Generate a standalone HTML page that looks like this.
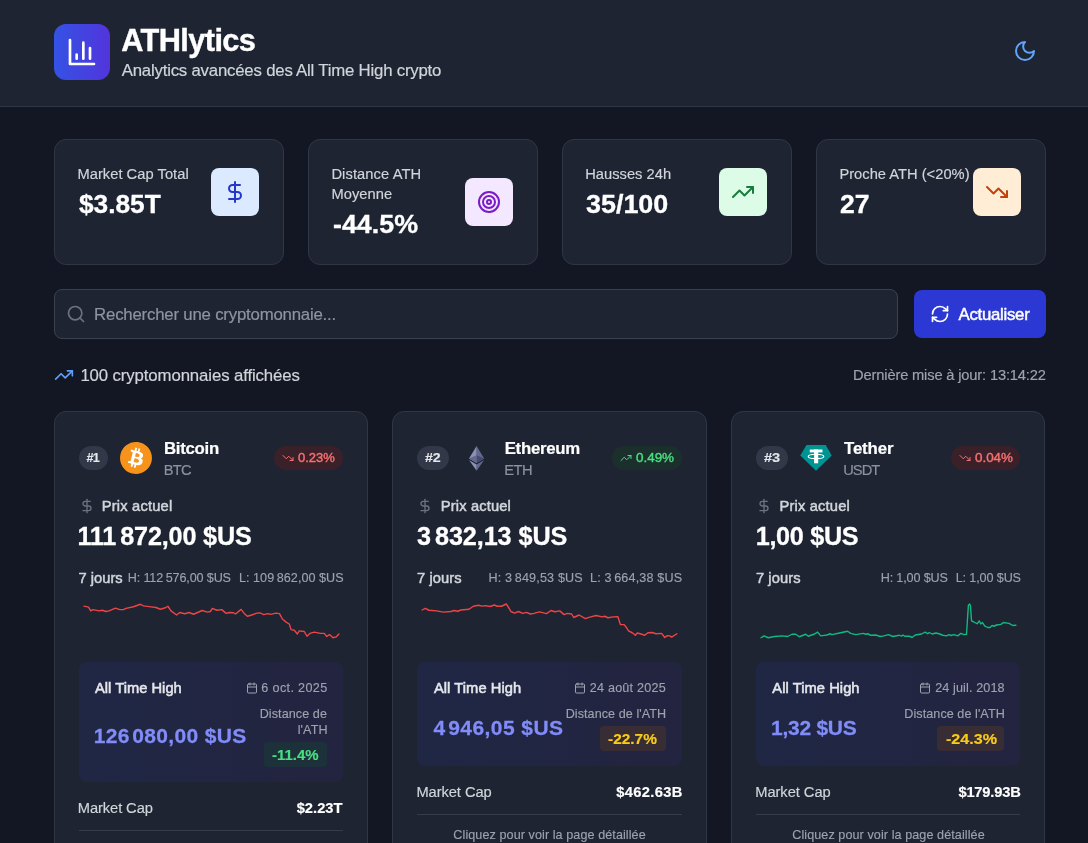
<!DOCTYPE html>
<html lang="fr">
<head>
<meta charset="utf-8">
<title>ATHlytics</title>
<style>
*{box-sizing:border-box;margin:0;padding:0}
html,body{width:1088px;height:843px;overflow:hidden}
body{background:#131723;color:#fff;font-family:"Liberation Sans",sans-serif;position:relative}
.b{position:absolute}
.t{position:absolute;white-space:nowrap;line-height:1}
svg{display:block;position:absolute;overflow:visible}
.ic{fill:none;stroke:currentColor;stroke-width:2;stroke-linecap:round;stroke-linejoin:round}
#txt{position:absolute;left:0;top:0;width:1088px;height:843px;will-change:transform}
.panel{background:#1e2431;border:1px solid #2f3646;border-radius:12px}
.pill{border-radius:12px;height:24px}
.ath{border-radius:8px;background:linear-gradient(90deg,#1f2744 0%,#23243f 100%)}
.hr{height:1px;background:#353d4c}
.spark{fill:none;stroke-width:1.4;stroke-linejoin:round;stroke-linecap:round}
</style>
</head>
<body>
<div class="b " style="left:0px;top:0px;width:1088px;height:107px;background:#1e2431;border-bottom:1px solid #2f3646"></div>
<div class="b " style="left:54px;top:24px;width:56px;height:56px;border-radius:12px;background:linear-gradient(90deg,#3453e4 0%,#5234dc 100%)"></div>
<svg class="ic" style="left:66px;top:36px;color:#fff;stroke-width:2" width="32" height="32" viewBox="0 0 24 24"><path d="M3 3v18h18"/><path d="M18 17V9"/><path d="M13 17V5"/><path d="M8 17v-3"/></svg>
<svg class="ic" style="left:1013.4px;top:39.4px;color:#60a5fa;stroke-width:2" width="24" height="24" viewBox="0 0 24 24"><path d="M12 3a6 6 0 0 0 9 9 9 9 0 1 1-9-9Z"/></svg>
<div class="b panel" style="left:54px;top:139px;width:230px;height:126px;"></div>
<div class="b " style="left:211px;top:168px;width:48px;height:48px;border-radius:8px;background:#dbeafe"></div>
<svg class="ic" style="left:223px;top:180px;color:#2337cc;stroke-width:2" width="24" height="24" viewBox="0 0 24 24"><path d="M12 2v20"/><path d="M17 5H9.5a3.5 3.5 0 0 0 0 7h5a3.5 3.5 0 0 1 0 7H6"/></svg>
<div class="b panel" style="left:308px;top:139px;width:230px;height:126px;"></div>
<div class="b " style="left:465px;top:178px;width:48px;height:48px;border-radius:8px;background:#f3e8ff"></div>
<svg class="ic" style="left:477px;top:190px;color:#7a1bc9;stroke-width:2" width="24" height="24" viewBox="0 0 24 24"><circle cx="12" cy="12" r="10"/><circle cx="12" cy="12" r="6"/><circle cx="12" cy="12" r="2"/></svg>
<div class="b panel" style="left:562px;top:139px;width:230px;height:126px;"></div>
<div class="b " style="left:719px;top:168px;width:48px;height:48px;border-radius:8px;background:#dcfce7"></div>
<svg class="ic" style="left:731px;top:180px;color:#177d3c;stroke-width:2" width="24" height="24" viewBox="0 0 24 24"><path d="M22 7l-8.500 8.500-5-5L2 17"/><path d="M16 7h6v6"/></svg>
<div class="b panel" style="left:816px;top:139px;width:230px;height:126px;"></div>
<div class="b " style="left:973px;top:168px;width:48px;height:48px;border-radius:8px;background:#ffedd5"></div>
<svg class="ic" style="left:985px;top:180px;color:#c2410c;stroke-width:2" width="24" height="24" viewBox="0 0 24 24"><path d="M22 17l-8.500-8.500-5 5L2 7"/><path d="M16 17h6v-6"/></svg>
<div class="b " style="left:54px;top:289px;width:844px;height:50px;background:#1e2431;border:1px solid #3a4252;border-radius:8px"></div>
<svg class="ic" style="left:66px;top:304px;color:#6b7280;stroke-width:2" width="20" height="20" viewBox="0 0 24 24"><circle cx="11" cy="11" r="8"/><path d="M21 21l-4.300-4.300"/></svg>
<div class="b " style="left:914px;top:290px;width:132px;height:48px;background:#2b38d3;border-radius:8px"></div>
<svg class="ic" style="left:930px;top:304px;color:#fff;stroke-width:2" width="20" height="20" viewBox="0 0 24 24"><path d="M3 12a9 9 0 0 1 9-9 9.750 9.750 0 0 1 6.740 2.740L21 8"/><path d="M21 3v5h-5"/><path d="M21 12a9 9 0 0 1-9 9 9.750 9.750 0 0 1-6.740-2.740L3 16"/><path d="M8 16H3v5"/></svg>
<svg class="ic" style="left:54px;top:365px;color:#5f9ff7;stroke-width:2" width="20" height="20" viewBox="0 0 24 24"><path d="M22 7l-8.500 8.500-5-5L2 17"/><path d="M16 7h6v6"/></svg>
<div class="b panel" style="left:54px;top:411px;width:314.44px;height:470px;"></div>
<div class="b pill" style="left:79px;top:446px;width:29px;height:24px;background:#323848"></div>
<svg style="left:120px;top:442px" width="32" height="32" viewBox="0 0 4091.27 4091.73"><path fill="#F7931A" d="M4030.06 2540.77c-273.24,1096.01 -1383.32,1763.02 -2479.46,1489.71 -1095.68,-273.24 -1762.69,-1383.39 -1489.33,-2479.31 273.12,-1096.13 1383.2,-1763.19 2479,-1489.95 1096.06,273.24 1763.03,1383.51 1489.76,2479.57l0.02 -0.02z"/><path fill="#fff" d="M2947.77 1754.38c40.72,-272.26 -166.56,-418.61 -450,-516.24l91.95 -368.8 -224.5 -55.94 -89.51 359.09c-59.02,-14.72 -119.63,-28.59 -179.87,-42.34l90.16 -361.46 -224.36 -55.94 -92 368.68c-48.84,-11.12 -96.81,-22.11 -143.35,-33.69l0.26 -1.16 -309.59 -77.31 -59.72 239.78c0,0 166.56,38.18 163.05,40.53 90.91,22.69 107.35,82.87 104.62,130.57l-104.74 420.15c6.26,1.59 14.38,3.89 23.34,7.49 -7.49,-1.86 -15.46,-3.89 -23.73,-5.87l-146.81 588.57c-11.11,27.62 -39.31,69.07 -102.87,53.33 2.25,3.26 -163.17,-40.72 -163.17,-40.72l-111.46 256.98 292.15 72.83c54.35,13.63 107.61,27.89 160.06,41.3l-92.9 373.03 224.24 55.94 92 -369.07c61.26,16.63 120.71,31.97 178.91,46.43l-91.69 367.33 224.51 55.94 92.89 -372.33c382.82,72.45 670.67,43.24 791.83,-303.02 97.63,-278.78 -4.86,-439.58 -206.26,-544.44 146.69,-33.83 257.18,-130.31 286.64,-329.61l-0.07 -0.05zm-512.93 719.26c-69.38,278.78 -538.76,128.08 -690.94,90.29l123.28 -494.2c152.17,37.99 640.17,113.17 567.67,403.91zm69.43 -723.3c-63.29,253.58 -453.96,124.75 -580.69,93.16l111.77 -448.21c126.73,31.59 534.850,90.55 468.94,355.05l-0.02 0z"/></svg>
<div class="b pill" style="left:274.44px;top:446px;width:69px;height:24px;background:#3a2029"></div>
<svg class="ic" style="left:282.44px;top:452px;color:#f87171;stroke-width:2" width="12" height="12" viewBox="0 0 24 24"><path d="M22 17l-8.500-8.500-5 5L2 7"/><path d="M16 17h6v-6"/></svg>
<svg class="ic" style="left:79px;top:498px;color:#6b7280;stroke-width:2" width="16" height="16" viewBox="0 0 24 24"><path d="M12 2v20"/><path d="M17 5H9.5a3.5 3.5 0 0 0 0 7h5a3.5 3.5 0 0 1 0 7H6"/></svg>
<svg style="left:0;top:0" width="1088" height="843"><polyline class="spark" stroke="#ef4444" points="84.10,606.10 88.50,607.10 90.75,610.90 92.90,609.60 99.10,610.90 102.25,610.25 106.00,611.50 109.10,610.90 115.40,608.10 119.75,609.60 123.50,609.60 126.00,608.40 133.50,606.75 140.40,604.25 143.50,605.90 151.00,606.90 156.00,607.50 160.40,609.25 165.40,607.75 167.90,606.25 171.00,610.90 176.60,615.00 179.75,612.50 184.75,613.75 189.10,612.50 193.50,614.25 202.25,610.50 207.25,612.10 210.40,611.50 212.40,608.40 216.75,610.25 221.75,609.60 226.10,613.40 229.25,612.50 233.60,612.75 235.50,614.00 241.10,609.40 244.25,613.40 247.40,616.25 251.75,615.00 256.75,613.10 260.50,613.00 263.60,614.60 268.00,613.60 270.50,614.40 276.10,613.10 279.50,613.60 282.40,619.00 286.10,622.10 289.25,624.00 291.10,629.60 294.25,630.25 297.40,634.00 299.25,630.90 304.25,631.50 307.00,636.25 309.90,633.40 314.25,632.10 320.50,633.40 324.25,633.40 326.75,636.50 329.50,634.60 333.00,637.75 336.10,636.90 338.90,634.00"/></svg>
<div class="b ath" style="left:79px;top:662px;width:264.44px;height:120px;"></div>
<svg class="ic" style="left:245.7px;top:682px;color:#9ca3af;stroke-width:2" width="12" height="12" viewBox="0 0 24 24"><rect x="3" y="4" width="18" height="18" rx="2"/><path d="M16 2v4"/><path d="M8 2v4"/><path d="M3 10h18"/></svg>
<div class="b " style="left:264.2px;top:742px;width:62.8px;height:24.5px;border-radius:4px;background:#1c3139"></div>
<div class="b hr" style="left:79px;top:830px;width:264.44px;height:1px;"></div>
<div class="b panel" style="left:392.44px;top:411px;width:314.44px;height:470px;"></div>
<div class="b pill" style="left:417.44px;top:446px;width:32px;height:24px;background:#323848"></div>
<svg style="left:469.04px;top:445.6px" width="15.2" height="24.7" viewBox="0 0 784.37 1277.39"><polygon fill="#62688f" points="392.07,0 383.5,29.11 383.5,873.74 392.07,882.29 784.13,650.54"/><polygon fill="#8a92b2" points="392.07,0 0,650.54 392.07,882.29 392.07,472.33"/><polygon fill="#62688f" points="392.07,956.52 387.24,962.41 387.24,1263.28 392.07,1277.38 784.37,724.89"/><polygon fill="#8a92b2" points="392.07,1277.38 392.07,956.52 0,724.89"/><polygon fill="#454a75" points="392.07,882.29 784.13,650.54 392.07,472.33"/><polygon fill="#62688f" points="0,650.54 392.07,882.29 392.07,472.33"/></svg>
<div class="b pill" style="left:611.88px;top:446px;width:70px;height:24px;background:#1b2f2d"></div>
<svg class="ic" style="left:619.88px;top:452px;color:#4ade80;stroke-width:2" width="12" height="12" viewBox="0 0 24 24"><path d="M22 7l-8.500 8.500-5-5L2 17"/><path d="M16 7h6v6"/></svg>
<svg class="ic" style="left:417.44px;top:498px;color:#6b7280;stroke-width:2" width="16" height="16" viewBox="0 0 24 24"><path d="M12 2v20"/><path d="M17 5H9.5a3.5 3.5 0 0 0 0 7h5a3.5 3.5 0 0 1 0 7H6"/></svg>
<svg style="left:0;top:0" width="1088" height="843"><polyline class="spark" stroke="#ef4444" points="422.10,610.00 425.25,608.40 429.00,610.25 436.50,610.90 443.40,612.10 450.90,611.50 454.00,610.50 457.75,611.25 460.90,610.00 469.00,609.25 473.40,606.25 478.40,605.25 482.10,606.10 485.25,605.60 490.25,606.50 494.25,605.00 497.10,606.25 501.50,606.25 506.25,604.00 508.40,607.10 510.90,611.50 514.60,613.10 518.40,611.50 522.75,613.40 526.50,612.40 530.25,614.00 534.00,613.40 539.60,611.90 546.50,613.60 551.00,610.50 554.75,611.75 559.75,610.90 564.10,614.60 567.25,613.40 571.60,614.00 573.75,617.50 579.10,615.00 585.40,618.60 589.75,617.10 596.00,615.50 602.25,616.90 604.75,616.25 607.90,617.75 613.50,616.90 617.90,616.75 620.40,624.60 624.10,624.60 626.60,627.75 628.50,630.90 632.25,632.75 635.40,635.25 637.25,633.00 641.00,634.00 644.75,635.25 647.90,632.75 652.25,632.50 656.00,633.75 661.60,633.40 664.75,637.50 667.25,635.60 669.75,635.90 671.60,637.10 676.90,633.75"/></svg>
<div class="b ath" style="left:417.44px;top:662px;width:264.44px;height:104px;"></div>
<svg class="ic" style="left:574.1px;top:682px;color:#9ca3af;stroke-width:2" width="12" height="12" viewBox="0 0 24 24"><rect x="3" y="4" width="18" height="18" rx="2"/><path d="M16 2v4"/><path d="M8 2v4"/><path d="M3 10h18"/></svg>
<div class="b " style="left:600.4px;top:726px;width:65.3px;height:24.5px;border-radius:4px;background:#382c35"></div>
<div class="b hr" style="left:417.44px;top:814px;width:264.44px;height:1px;"></div>
<div class="b panel" style="left:730.89px;top:411px;width:314.44px;height:470px;"></div>
<div class="b pill" style="left:755.89px;top:446px;width:32px;height:24px;background:#323848"></div>
<svg style="left:799.89px;top:442px" width="32" height="32" viewBox="0 0 32 32"><polygon fill="#009393" points="6.500,3 25.750,3 31.750,13.400 16,28.750 0.250,13.400"/><rect x="9.750" y="7.500" width="12.750" height="2.900" fill="#fff"/><rect x="14.100" y="7.500" width="4.100" height="13.800" fill="#fff"/><ellipse cx="16" cy="14.400" rx="7.800" ry="2.200" fill="none" stroke="#fff" stroke-width="1.100"/></svg>
<div class="b pill" style="left:951.33px;top:446px;width:69px;height:24px;background:#3a2029"></div>
<svg class="ic" style="left:959.33px;top:452px;color:#f87171;stroke-width:2" width="12" height="12" viewBox="0 0 24 24"><path d="M22 17l-8.500-8.500-5 5L2 7"/><path d="M16 17h6v-6"/></svg>
<svg class="ic" style="left:755.89px;top:498px;color:#6b7280;stroke-width:2" width="16" height="16" viewBox="0 0 24 24"><path d="M12 2v20"/><path d="M17 5H9.5a3.5 3.5 0 0 0 0 7h5a3.5 3.5 0 0 1 0 7H6"/></svg>
<svg style="left:0;top:0" width="1088" height="843"><polyline class="spark" stroke="#10b981" points="761.00,637.75 764.10,635.90 768.25,637.75 774.50,636.50 782.00,635.90 787.60,636.50 792.00,634.25 795.75,634.25 799.25,636.75 805.75,634.25 808.25,636.25 814.50,634.00 817.60,632.10 820.75,635.90 827.00,635.00 830.10,633.75 832.00,634.60 839.50,633.00 847.60,631.25 850.75,633.40 855.75,634.60 863.25,633.40 865.75,634.25 867.60,633.75 870.75,635.25 875.75,635.00 880.10,636.50 884.00,635.90 888.40,634.60 892.75,636.50 899.60,635.25 901.50,636.25 903.00,635.00 904.60,636.25 909.60,636.25 912.10,637.50 915.25,635.00 921.50,634.00 925.25,632.10 927.75,633.75 929.25,632.50 932.10,634.00 935.90,633.00 939.00,633.75 942.75,635.25 946.50,635.90 949.00,634.60 950.90,635.50 954.00,634.60 957.75,635.90 960.90,633.40 964.00,634.60 966.50,634.25 967.50,619.00 968.40,605.25 969.60,604.00 970.50,605.90 971.50,620.90 973.40,621.75 977.10,623.75 979.25,620.90 980.90,624.00 982.50,622.50 984.60,625.90 987.75,627.50 990.00,627.50 992.10,625.50 994.00,626.25 996.50,625.00 1000.90,624.40 1003.40,622.50 1009.00,623.40 1012.75,625.50 1015.90,625.25"/></svg>
<div class="b ath" style="left:755.89px;top:662px;width:264.44px;height:104px;"></div>
<svg class="ic" style="left:919.4px;top:682px;color:#9ca3af;stroke-width:2" width="12" height="12" viewBox="0 0 24 24"><rect x="3" y="4" width="18" height="18" rx="2"/><path d="M16 2v4"/><path d="M8 2v4"/><path d="M3 10h18"/></svg>
<div class="b " style="left:937.4px;top:726px;width:67.0px;height:24.5px;border-radius:4px;background:#382c35"></div>
<div class="b hr" style="left:755.89px;top:814px;width:264.44px;height:1px;"></div>
<div id="txt">
<div class="t" id="title" style="left:121.23px;top:25.97px;font-size:30.75px;color:#ffffff;font-weight:700;-webkit-text-stroke:0.39px currentColor;letter-spacing:-0.601px;">ATHlytics</div>
<div class="t" id="sub" style="left:121.74px;top:62.87px;font-size:16.80px;color:#d1d5db;letter-spacing:-0.206px;-webkit-text-stroke:0.19px currentColor;">Analytics avancées des All Time High crypto</div>
<div class="t" id="s1l" style="left:77.41px;top:166.56px;font-size:14.70px;color:#d1d5db;letter-spacing:0.034px;-webkit-text-stroke:0.17px currentColor;">Market Cap Total</div>
<div class="t" id="s1v" style="left:79.42px;top:191.67px;font-size:25.20px;color:#ffffff;font-weight:700;-webkit-text-stroke:0.31px currentColor;transform:scaleX(1.0427);transform-origin:0 0;">$3.85T</div>
<div class="t" id="s2l" style="left:331.40px;top:166.56px;font-size:14.70px;color:#d1d5db;letter-spacing:0.095px;-webkit-text-stroke:0.17px currentColor;">Distance ATH</div>
<div class="t" id="s2m" style="left:331.40px;top:186.56px;font-size:14.70px;color:#d1d5db;letter-spacing:0.043px;-webkit-text-stroke:0.17px currentColor;">Moyenne</div>
<div class="t" id="s2v" style="left:332.77px;top:211.67px;font-size:25.20px;color:#ffffff;font-weight:700;-webkit-text-stroke:0.31px currentColor;transform:scaleX(1.0658);transform-origin:0 0;">-44.5%</div>
<div class="t" id="s3l" style="left:585.15px;top:166.56px;font-size:14.70px;color:#d1d5db;letter-spacing:0.028px;-webkit-text-stroke:0.17px currentColor;">Hausses 24h</div>
<div class="t" id="s3v" style="left:586.36px;top:191.67px;font-size:25.20px;color:#ffffff;font-weight:700;-webkit-text-stroke:0.31px currentColor;transform:scaleX(1.0680);transform-origin:0 0;">35/100</div>
<div class="t" id="s4l" style="left:839.40px;top:166.56px;font-size:14.70px;color:#d1d5db;letter-spacing:0.014px;-webkit-text-stroke:0.17px currentColor;">Proche ATH (&lt;20%)</div>
<div class="t" id="s4v" style="left:839.72px;top:191.67px;font-size:25.20px;color:#ffffff;font-weight:700;-webkit-text-stroke:0.31px currentColor;transform:scaleX(1.0549);transform-origin:0 0;">27</div>
<div class="t" id="ph" style="left:94.10px;top:306.80px;font-size:16.80px;color:#8d94a2;letter-spacing:-0.201px;-webkit-text-stroke:0.19px currentColor;">Rechercher une cryptomonnaie...</div>
<div class="t" id="btnt" style="left:958.55px;top:307.18px;font-size:16.80px;color:#ffffff;letter-spacing:-0.276px;-webkit-text-stroke:0.45px #fff;">Actualiser</div>
<div class="t" id="cnt" style="left:80.39px;top:367.81px;font-size:16.80px;color:#d1d5db;letter-spacing:-0.116px;-webkit-text-stroke:0.19px currentColor;">100 cryptomonnaies affichées</div>
<div class="t" id="upd" style="left:853.11px;top:367.56px;font-size:14.70px;color:#9ca3af;letter-spacing:-0.163px;-webkit-text-stroke:0.17px currentColor;">Dernière mise à jour: 13:14:22</div>
<div class="t" id="c1rk" style="left:86.45px;top:452.35px;font-size:12.60px;color:#e5e7eb;font-weight:700;-webkit-text-stroke:0.16px currentColor;letter-spacing:-0.808px;">#1</div>
<div class="t" id="c1nm" style="left:163.96px;top:440.78px;font-size:16.80px;color:#ffffff;font-weight:700;-webkit-text-stroke:0.21px currentColor;letter-spacing:-0.279px;">Bitcoin</div>
<div class="t" id="c1sy" style="left:163.78px;top:462.56px;font-size:14.70px;color:#8b92a1;letter-spacing:-0.753px;-webkit-text-stroke:0.17px currentColor;">BTC</div>
<div class="t" id="c1cg" style="left:298.16px;top:452.06px;font-size:12.60px;color:#f87171;transform:scaleX(1.0317);transform-origin:0 0;-webkit-text-stroke:0.4px currentColor;">0.23%</div>
<div class="t" id="c1pa" style="left:101.77px;top:498.56px;font-size:14.70px;color:#d1d5db;letter-spacing:0.190px;-webkit-text-stroke:0.5px currentColor;">Prix actuel</div>
<div class="t" id="c1pr" style="left:77.41px;top:523.67px;font-size:25.20px;color:#ffffff;font-weight:700;-webkit-text-stroke:0.31px currentColor;letter-spacing:-0.167px;">111<span style="letter-spacing:-1.0px"> </span>872,00 $US</div>
<div class="t" id="c1j7" style="left:78.54px;top:570.56px;font-size:14.70px;color:#d1d5db;letter-spacing:0.012px;-webkit-text-stroke:0.5px currentColor;">7 jours</div>
<div class="t" id="c1h" style="left:127.69px;top:571.77px;font-size:12.60px;color:#9ca3af;letter-spacing:-0.127px;-webkit-text-stroke:0.14px currentColor;">H: 112<span style="letter-spacing:0.0px"> </span>576,00 $US</div>
<div class="t" id="c1l" style="left:238.91px;top:572.48px;font-size:12.60px;color:#9ca3af;letter-spacing:0.045px;-webkit-text-stroke:0.14px currentColor;">L: 109<span style="letter-spacing:0.0px"> </span>862,00 $US</div>
<div class="t" id="c1ah" style="left:94.99px;top:680.56px;font-size:14.70px;color:#e5e7eb;letter-spacing:0.022px;-webkit-text-stroke:0.55px currentColor;">All Time High</div>
<div class="t" id="c1dt" style="left:261.37px;top:682.47px;font-size:12.60px;color:#9ca3af;letter-spacing:0.348px;-webkit-text-stroke:0.14px currentColor;">6 oct. 2025</div>
<div class="t" id="c1ap" style="left:93.64px;top:725.22px;font-size:21.00px;color:#818cf8;font-weight:700;-webkit-text-stroke:0.26px currentColor;letter-spacing:0.329px;">126<span style="letter-spacing:-1.6px"> </span>080,00 $US</div>
<div class="t" id="c1d1" style="left:259.69px;top:707.77px;font-size:12.60px;color:#9ca3af;letter-spacing:0.072px;-webkit-text-stroke:0.14px currentColor;">Distance de</div>
<div class="t" id="c1d2" style="left:297.74px;top:723.70px;font-size:12.60px;color:#9ca3af;letter-spacing:0.084px;-webkit-text-stroke:0.14px currentColor;">l&#x27;ATH</div>
<div class="t" id="c1bd" style="left:271.92px;top:747.56px;font-size:14.70px;color:#4ade80;font-weight:700;-webkit-text-stroke:0.18px currentColor;transform:scaleX(1.0172);transform-origin:0 0;">-11.4%</div>
<div class="t" id="c1mc" style="left:77.78px;top:800.56px;font-size:14.70px;color:#d1d5db;letter-spacing:-0.087px;-webkit-text-stroke:0.17px currentColor;">Market Cap</div>
<div class="t" id="c1mv" style="left:296.66px;top:800.56px;font-size:14.70px;color:#ffffff;font-weight:700;-webkit-text-stroke:0.18px currentColor;letter-spacing:0.022px;">$2.23T</div>
<div class="t" id="c2rk" style="left:425.13px;top:452.34px;font-size:12.60px;color:#e5e7eb;font-weight:700;-webkit-text-stroke:0.16px currentColor;transform:scaleX(1.1243);transform-origin:0 0;">#2</div>
<div class="t" id="c2nm" style="left:504.69px;top:440.78px;font-size:16.80px;color:#ffffff;font-weight:700;-webkit-text-stroke:0.21px currentColor;letter-spacing:-0.264px;">Ethereum</div>
<div class="t" id="c2sy" style="left:504.23px;top:462.56px;font-size:14.70px;color:#8b92a1;letter-spacing:-0.451px;-webkit-text-stroke:0.17px currentColor;">ETH</div>
<div class="t" id="c2cg" style="left:636.08px;top:452.07px;font-size:12.60px;color:#4ade80;transform:scaleX(1.0657);transform-origin:0 0;-webkit-text-stroke:0.4px currentColor;">0.49%</div>
<div class="t" id="c2pa" style="left:440.83px;top:498.56px;font-size:14.70px;color:#d1d5db;letter-spacing:0.144px;-webkit-text-stroke:0.5px currentColor;">Prix actuel</div>
<div class="t" id="c2pr" style="left:416.99px;top:523.67px;font-size:25.20px;color:#ffffff;font-weight:700;-webkit-text-stroke:0.31px currentColor;letter-spacing:-0.076px;">3<span style="letter-spacing:-1.0px"> </span>832,13 $US</div>
<div class="t" id="c2j7" style="left:416.99px;top:570.56px;font-size:14.70px;color:#d1d5db;letter-spacing:0.102px;-webkit-text-stroke:0.5px currentColor;">7 jours</div>
<div class="t" id="c2h" style="left:488.56px;top:571.77px;font-size:12.60px;color:#9ca3af;letter-spacing:0.153px;-webkit-text-stroke:0.14px currentColor;">H: 3<span style="letter-spacing:0.0px"> </span>849,53 $US</div>
<div class="t" id="c2l" style="left:590.07px;top:572.47px;font-size:12.60px;color:#9ca3af;letter-spacing:0.149px;-webkit-text-stroke:0.14px currentColor;">L: 3<span style="letter-spacing:0.0px"> </span>664,38 $US</div>
<div class="t" id="c2ah" style="left:433.89px;top:680.56px;font-size:14.70px;color:#e5e7eb;letter-spacing:0.063px;-webkit-text-stroke:0.55px currentColor;">All Time High</div>
<div class="t" id="c2dt" style="left:589.74px;top:681.77px;font-size:12.60px;color:#9ca3af;letter-spacing:0.224px;-webkit-text-stroke:0.14px currentColor;">24 août 2025</div>
<div class="t" id="c2ap" style="left:433.51px;top:717.22px;font-size:21.00px;color:#818cf8;font-weight:700;-webkit-text-stroke:0.26px currentColor;letter-spacing:0.429px;">4<span style="letter-spacing:-1.6px"> </span>946,05 $US</div>
<div class="t" id="c2d1" style="left:565.68px;top:707.70px;font-size:12.60px;color:#9ca3af;letter-spacing:0.063px;-webkit-text-stroke:0.14px currentColor;">Distance de l&#x27;ATH</div>
<div class="t" id="c2bd" style="left:608.19px;top:731.56px;font-size:14.70px;color:#facc15;font-weight:700;-webkit-text-stroke:0.18px currentColor;transform:scaleX(1.0500);transform-origin:0 0;">-22.7%</div>
<div class="t" id="c2mc" style="left:416.40px;top:784.56px;font-size:14.70px;color:#d1d5db;letter-spacing:-0.068px;-webkit-text-stroke:0.17px currentColor;">Market Cap</div>
<div class="t" id="c2mv" style="left:616.37px;top:784.56px;font-size:14.70px;color:#ffffff;font-weight:700;-webkit-text-stroke:0.18px currentColor;letter-spacing:0.312px;">$462.63B</div>
<div class="t" id="c2ck" style="left:453.37px;top:829.47px;font-size:12.60px;color:#9ca3af;letter-spacing:0.076px;-webkit-text-stroke:0.14px currentColor;">Cliquez pour voir la page détaillée</div>
<div class="t" id="c3rk" style="left:763.52px;top:452.34px;font-size:12.60px;color:#e5e7eb;font-weight:700;-webkit-text-stroke:0.16px currentColor;transform:scaleX(1.1551);transform-origin:0 0;">#3</div>
<div class="t" id="c3nm" style="left:844.00px;top:440.78px;font-size:16.80px;color:#ffffff;font-weight:700;-webkit-text-stroke:0.21px currentColor;letter-spacing:-0.107px;">Tether</div>
<div class="t" id="c3sy" style="left:843.21px;top:462.56px;font-size:14.70px;color:#8b92a1;letter-spacing:-0.947px;-webkit-text-stroke:0.17px currentColor;">USDT</div>
<div class="t" id="c3cg" style="left:974.76px;top:452.07px;font-size:12.60px;color:#f87171;transform:scaleX(1.0637);transform-origin:0 0;-webkit-text-stroke:0.4px currentColor;">0.04%</div>
<div class="t" id="c3pa" style="left:779.45px;top:498.56px;font-size:14.70px;color:#d1d5db;letter-spacing:0.183px;-webkit-text-stroke:0.5px currentColor;">Prix actuel</div>
<div class="t" id="c3pr" style="left:755.70px;top:523.67px;font-size:25.20px;color:#ffffff;font-weight:700;-webkit-text-stroke:0.31px currentColor;letter-spacing:-0.301px;">1,00 $US</div>
<div class="t" id="c3j7" style="left:755.95px;top:570.56px;font-size:14.70px;color:#d1d5db;letter-spacing:0.075px;-webkit-text-stroke:0.5px currentColor;">7 jours</div>
<div class="t" id="c3h" style="left:880.68px;top:571.70px;font-size:12.60px;color:#9ca3af;letter-spacing:-0.139px;-webkit-text-stroke:0.14px currentColor;">H: 1,00 $US</div>
<div class="t" id="c3l" style="left:955.68px;top:571.70px;font-size:12.60px;color:#9ca3af;letter-spacing:-0.117px;-webkit-text-stroke:0.14px currentColor;">L: 1,00 $US</div>
<div class="t" id="c3ah" style="left:772.36px;top:680.56px;font-size:14.70px;color:#e5e7eb;letter-spacing:0.055px;-webkit-text-stroke:0.55px currentColor;">All Time High</div>
<div class="t" id="c3dt" style="left:935.20px;top:681.69px;font-size:12.60px;color:#9ca3af;letter-spacing:0.124px;-webkit-text-stroke:0.14px currentColor;">24 juil. 2018</div>
<div class="t" id="c3ap" style="left:771.02px;top:717.22px;font-size:21.00px;color:#818cf8;font-weight:700;-webkit-text-stroke:0.26px currentColor;letter-spacing:-0.265px;">1,32 $US</div>
<div class="t" id="c3d1" style="left:904.34px;top:707.77px;font-size:12.60px;color:#9ca3af;letter-spacing:0.060px;-webkit-text-stroke:0.14px currentColor;">Distance de l&#x27;ATH</div>
<div class="t" id="c3bd" style="left:946.06px;top:731.56px;font-size:14.70px;color:#facc15;font-weight:700;-webkit-text-stroke:0.18px currentColor;transform:scaleX(1.0971);transform-origin:0 0;">-24.3%</div>
<div class="t" id="c3mc" style="left:755.23px;top:784.56px;font-size:14.70px;color:#d1d5db;letter-spacing:-0.047px;-webkit-text-stroke:0.17px currentColor;">Market Cap</div>
<div class="t" id="c3mv" style="left:958.40px;top:784.56px;font-size:14.70px;color:#ffffff;font-weight:700;-webkit-text-stroke:0.18px currentColor;letter-spacing:-0.184px;">$179.93B</div>
<div class="t" id="c3ck" style="left:792.22px;top:829.48px;font-size:12.60px;color:#9ca3af;letter-spacing:0.080px;-webkit-text-stroke:0.14px currentColor;">Cliquez pour voir la page détaillée</div>
</div>
</body>
</html>
